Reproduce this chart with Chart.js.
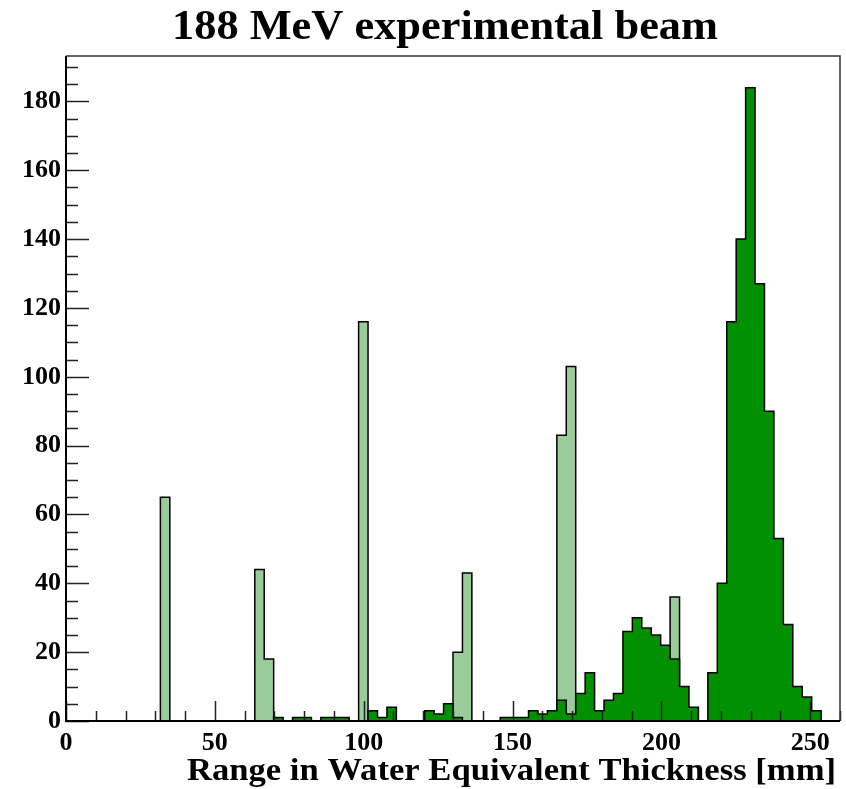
<!DOCTYPE html>
<html><head><meta charset="utf-8">
<script src="https://cdn.jsdelivr.net/npm/chart.js@4/dist/chart.umd.min.js"></script>
<style>html,body{margin:0;padding:0;background:#fff;}#wrap{width:846px;height:789px;}</style>
</head><body><div id="wrap"><canvas id="c" width="846" height="789"></canvas></div>
<script>
const titleText = '188 MeV experimental beam';
const xTitle = 'Range in Water Equivalent Thickness [mm]';
const xRange = [0, 260];
const yRange = [0, 193.2];
const nBins = 82;
const xTickLabels = [0, 50, 100, 150, 200, 250];
const yTickLabels = [0, 20, 40, 60, 80, 100, 120, 140, 160, 180];
const xMinorStep = 10;
const yMinorStep = 5;
// dark green histogram (counts per bin, bins 0..81)
const darkCounts = [
  0,0,0,0,0,0,0,0,0,0,
  0,0,0,0,0,0,0,0,0,0,
  0,0,1,0,1,1,0,1,1,1,
  0,0,3,1,4,0,0,0,3,2,
  5,1,0,0,0,0,1,1,1,3,
  2,3,6,2,8,14,3,6,8,26,
  30,27,25,22,18,10,4,0,14,40,
  116,140,184,127,90,53,28,10,7,3,
  0,0
];
// light green histogram (counts per bin, bins 0..81)
const lightCounts = [
  0,0,0,0,0,0,0,0,0,0,
  65,0,0,0,0,0,0,0,0,0,
  44,18,0,0,0,0,0,0,0,0,
  0,116,0,0,0,0,0,0,0,0,
  0,20,43,0,0,0,0,0,0,0,
  0,0,83,103,0,0,0,0,0,0,
  0,0,0,0,36,0,0,0,0,0,
  0,0,0,0,0,0,0,0,0,0,
  0,0
];

const binW = (xRange[1] - xRange[0]) / nBins;
function stepPoints(counts) {
  const pts = counts.map((c, k) => ({x: xRange[0] + k * binW, y: c}));
  pts.push({x: xRange[1], y: 0});
  return pts;
}
const FONT = "'Liberation Serif', 'DejaVu Serif', serif";

function fitText(ctx, text, font, left, baseline, width) {
  ctx.save();
  ctx.font = font;
  ctx.textAlign = 'left';
  ctx.textBaseline = 'alphabetic';
  const w = ctx.measureText(text).width;
  ctx.translate(left, baseline);
  ctx.scale(width / w, 1);
  ctx.fillText(text, 0, 0);
  ctx.restore();
}

const decor = {
  id: 'decor',
  afterDatasetsDraw(chart) {
    const ctx = chart.ctx, a = chart.chartArea;
    const xs = chart.scales.x, ys = chart.scales.y;
    ctx.save();
    ctx.strokeStyle = '#222';
    ctx.lineWidth = 1.5;
    ctx.beginPath();
    for (let v = xRange[0]; v <= xRange[1] + 1e-9; v += xMinorStep) {
      const px = Math.round(xs.getPixelForValue(v)) + 0.5;
      const len = xTickLabels.includes(v) ? 20 : 10;
      ctx.moveTo(px, a.bottom);
      ctx.lineTo(px, a.bottom - len);
    }
    for (let v = yRange[0]; v <= yRange[1]; v += yMinorStep) {
      const py = Math.round(ys.getPixelForValue(v)) + 0.5;
      const len = yTickLabels.includes(v) ? 23 : 12;
      ctx.moveTo(a.left, py);
      ctx.lineTo(a.left + len, py);
    }
    ctx.stroke();
    ctx.strokeStyle = '#333';
    ctx.lineWidth = 1.5;
    ctx.beginPath();
    ctx.moveTo(a.left, a.top);
    ctx.lineTo(a.right, a.top);
    ctx.lineTo(a.right, a.bottom);
    ctx.stroke();
    ctx.strokeStyle = '#000';
    ctx.lineWidth = 2;
    ctx.beginPath();
    ctx.moveTo(a.left, a.top);
    ctx.lineTo(a.left, a.bottom);
    ctx.lineTo(a.right, a.bottom);
    ctx.stroke();
    ctx.restore();
  },
  afterDraw(chart) {
    const ctx = chart.ctx;
    ctx.fillStyle = '#000';
    fitText(ctx, titleText, "bold 43px " + FONT, 172, 39, 546);
    fitText(ctx, xTitle, "bold 32px " + FONT, 187, 780, 649);
  }
};

new Chart(document.getElementById('c'), {
  type: 'line',
  data: {
    datasets: [
      {
        label: 'dark', data: stepPoints(darkCounts), stepped: true,
        fill: 'origin', backgroundColor: '#009000', borderColor: '#000',
        borderWidth: 1.5, pointRadius: 0, order: 1
      },
      {
        label: 'light', data: stepPoints(lightCounts), stepped: true,
        fill: 'origin', backgroundColor: '#99cc99', borderColor: '#000',
        borderWidth: 1.5, pointRadius: 0, order: 2
      }
    ]
  },
  options: {
    responsive: false,
    devicePixelRatio: 1,
    animation: false,
    layout: {padding: {left: 0, right: 6, top: 56, bottom: 0}},
    plugins: {legend: {display: false}, title: {display: false}, tooltip: {enabled: false}},
    scales: {
      x: {
        type: 'linear', min: xRange[0], max: xRange[1],
        grid: {display: false, drawTicks: false}, border: {display: false},
        afterBuildTicks: s => { s.ticks = xTickLabels.map(v => ({value: v})); },
        afterFit: s => { s.height = 68; },
        ticks: {color: '#000', font: {family: FONT, weight: 'bold', size: 26}, padding: 7, maxRotation: 0, autoSkip: false}
      },
      y: {
        type: 'linear', min: yRange[0], max: yRange[1],
        grid: {display: false, drawTicks: false}, border: {display: false},
        afterBuildTicks: s => { s.ticks = yTickLabels.map(v => ({value: v})); },
        afterFit: s => { s.width = 66; },
        ticks: {color: '#000', font: {family: FONT, weight: 'bold', size: 26}, padding: 5, autoSkip: false}
      }
    }
  },
  plugins: [decor]
});
</script>
</body></html>
